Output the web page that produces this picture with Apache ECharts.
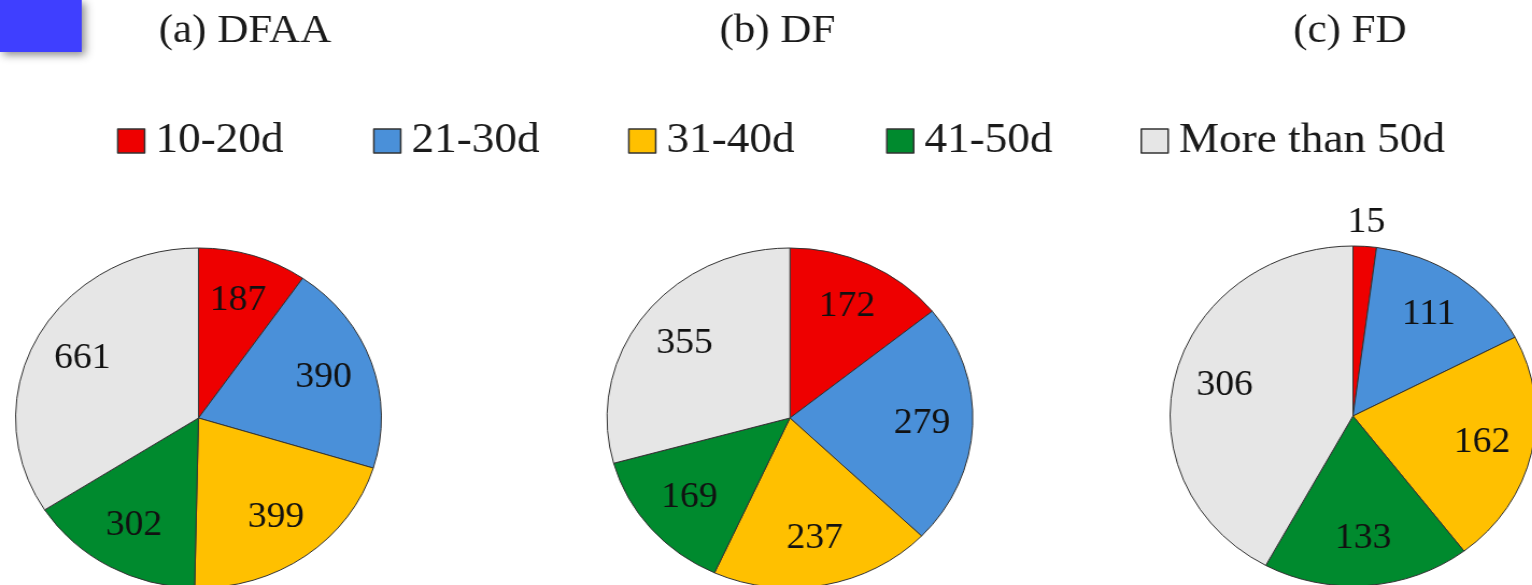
<!DOCTYPE html>
<html>
<head>
<meta charset="utf-8">
<script src="https://cdn.jsdelivr.net/npm/echarts@6/dist/echarts.min.js"></script>
<style>
  html, body { margin: 0; padding: 0; background: #fff; overflow: hidden; }
  /* the figure is drawn slightly narrow and stretched horizontally */
  #chart { width: 1424px; height: 585px; transform: scaleX(1.0759); transform-origin: 0 0; }
</style>
</head>
<body>
<div id="chart"></div>
<script>
// Days-range categories shared by the three panels
const categories = ['10-20d', '21-30d', '31-40d', '41-50d', 'More than 50d'];
const panelTitles = ['(a) DFAA', '(b) DF', '(c) FD'];

// Counts per category for each panel
const dfaaValues = [187, 390, 399, 302, 661];
const dfValues = [172, 279, 237, 169, 355];
const fdValues = [15, 111, 162, 133, 306];

const sliceColors = ['#EE0000', '#4A90D9', '#FFC000', '#008A2E', '#E6E6E6'];

const serif = '"Liberation Serif", "Times New Roman", serif';
const panelCenters = [[184.5, 418], [734.2, 418], [1257.5, 416]];
const titleCenters = [227.7, 722.6, 1254.7];
const legendLefts = [108.7, 346.7, 583.7, 823.5, 1060];
const pieRadius = 170;

const panels = [dfaaValues, dfValues, fdValues];

const labelStyle = {
  show: true, position: 'inside', formatter: '{c}',
  fontFamily: serif, fontSize: 35, color: '#111'
};

const series = [];
panels.forEach((values, p) => {
  // filled slices
  series.push({
    type: 'pie',
    center: panelCenters[p],
    radius: pieRadius,
    startAngle: 90,
    clockwise: true,
    silent: true,
    label: { show: false },
    labelLine: { show: false },
    emphasis: { disabled: true },
    itemStyle: { borderColor: '#333', borderWidth: 1 },
    data: values.map((v, i) => ({ name: categories[i], value: v, itemStyle: { color: sliceColors[i] } }))
  });
  // value labels sit about 70% out from the centre; tiny slices get an outer label
  const total = values.reduce((a, b) => a + b, 0);
  const small = values.map(v => v / total < 0.04);
  series.push({
    type: 'pie',
    center: panelCenters[p],
    radius: [70, pieRadius],
    startAngle: 90,
    clockwise: true,
    silent: true,
    avoidLabelOverlap: false,
    emphasis: { disabled: true },
    itemStyle: { color: 'rgba(0,0,0,0)', borderWidth: 0 },
    labelLine: { show: false },
    label: labelStyle,
    data: values.map((v, i) => ({ name: categories[i], value: v, label: { show: !small[i] } }))
  });
  if (small.some(Boolean)) {
    series.push({
      type: 'pie',
      center: panelCenters[p],
      radius: [176, 206],
      startAngle: 90,
      clockwise: true,
      silent: true,
      avoidLabelOverlap: false,
      emphasis: { disabled: true },
      itemStyle: { color: 'rgba(0,0,0,0)', borderWidth: 0 },
      labelLine: { show: false },
      label: labelStyle,
      data: values.map((v, i) => ({ name: categories[i], value: v, label: { show: small[i] } }))
    });
  }
});

const option = {
  animation: false,
  backgroundColor: '#ffffff',
  title: panelTitles.map((t, p) => ({
    text: t,
    left: titleCenters[p],
    top: 11,
    padding: 0,
    textAlign: 'center',
    textStyle: { fontFamily: serif, fontSize: 40, fontWeight: 'normal', color: '#1a1a1a' }
  })),
  legend: categories.map((c, i) => ({
    data: [c],
    left: legendLefts[i],
    top: 120,
    padding: 0,
    icon: 'rect',
    itemWidth: 25,
    itemHeight: 24,
    selectedMode: false,
    itemStyle: { borderColor: '#333', borderWidth: 1.5 },
    textStyle: { fontFamily: serif, fontSize: 42, color: '#1a1a1a', padding: [0, 0, 0, 5] }
  })),
  graphic: [{
    type: 'rect',
    shape: { x: 0, y: 0, width: 76, height: 52 },
    style: {
      fill: '#3F3FFF',
      shadowBlur: 8, shadowOffsetX: 3, shadowOffsetY: 3,
      shadowColor: 'rgba(0,0,0,0.45)'
    },
    silent: true
  }],
  series: series
};

echarts.init(document.getElementById('chart'), null, { renderer: 'canvas' }).setOption(option);
</script>
</body>
</html>
